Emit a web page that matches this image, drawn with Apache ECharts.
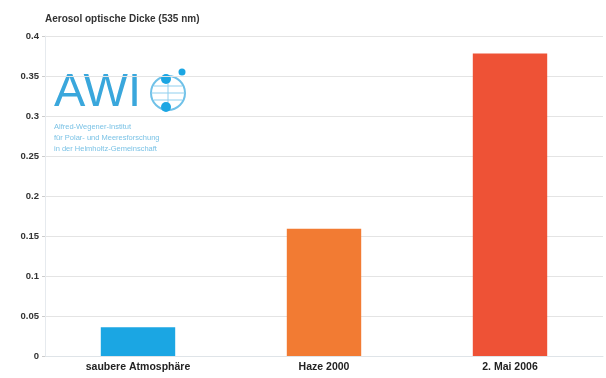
<!DOCTYPE html>
<html><head><meta charset="utf-8">
<script src="https://cdn.jsdelivr.net/npm/echarts@6/dist/echarts.min.js"></script>
<style>html,body{margin:0;padding:0;background:#fff}#c{width:606px;height:378px}</style>
</head><body><div id="c"></div>
<script>
const categories = ['saubere Atmosphäre', 'Haze 2000', '2. Mai 2006'];
const values = [0.036, 0.159, 0.378];
const barColors = ['#1ba6e3', '#f27b33', '#ee5236'];
const yTitle = 'Aerosol optische Dicke (535 nm)';
const logoLines = ['Alfred-Wegener-Institut', 'für Polar- und Meeresforschung', 'in der Helmholtz-Gemeinschaft'];

const chart = echarts.init(document.getElementById('c'));
chart.setOption({
  animation: false,
  backgroundColor: '#fff',
  grid: {left: 45, right: 3, top: 36, bottom: 22},
  title: {text: yTitle, left: 40, top: 9, textStyle: {fontFamily: 'Liberation Sans', fontWeight: 'bold', fontSize: 10, color: '#333'}},
  xAxis: {
    type: 'category', data: categories,
    axisLine: {lineStyle: {color: '#dfe4e8'}}, axisTick: {show: false},
    axisLabel: {fontFamily: 'Liberation Sans', fontWeight: 'bold', fontSize: 10.5, color: '#222', margin: 6, interval: 0}
  },
  yAxis: {
    type: 'value', min: 0, max: 0.4, interval: 0.05,
    axisLine: {show: true, lineStyle: {color: '#e6eaee'}}, axisTick: {show: true, length: 3, lineStyle: {color: '#ccc'}},
    splitLine: {lineStyle: {color: '#e4e4e4'}},
    axisLabel: {fontFamily: 'Liberation Sans', fontWeight: 'bold', fontSize: 9.5, color: '#333', margin: 6,
      formatter: v => String(+v.toFixed(2))}
  },
  series: [{
    type: 'bar', barWidth: '40%',
    data: values.map((v, i) => ({value: v, itemStyle: {color: barColors[i]}}))
  }],
  graphic: [
    {type: 'text', left: 54, top: 70, style: {text: 'AWI', font: '400 47px "Liberation Sans"', fill: '#3aa7dc'}},
    {type: 'circle', shape: {cx: 168, cy: 93, r: 17}, style: {fill: 'none', stroke: '#6fc1e8', lineWidth: 2}},
    {type: 'line', shape: {x1: 151, y1: 93, x2: 185, y2: 93}, style: {stroke: '#8fcfee', lineWidth: 1}},
    {type: 'line', shape: {x1: 168, y1: 76, x2: 168, y2: 110}, style: {stroke: '#8fcfee', lineWidth: 1}},
    {type: 'line', shape: {x1: 154, y1: 86, x2: 182, y2: 86}, style: {stroke: '#8fcfee', lineWidth: 1}},
    {type: 'line', shape: {x1: 154, y1: 100, x2: 182, y2: 100}, style: {stroke: '#8fcfee', lineWidth: 1}},
    {type: 'circle', shape: {cx: 166, cy: 79, r: 5}, style: {fill: '#1ba6e3'}},
    {type: 'circle', shape: {cx: 166, cy: 107, r: 5}, style: {fill: '#1ba6e3'}},
    {type: 'circle', shape: {cx: 182, cy: 72, r: 3.5}, style: {fill: '#1ba6e3'}},
    {type: 'text', left: 54, top: 121, style: {text: logoLines.join('\n'), font: '7.5px "Liberation Sans"', fill: '#7cc3e6', lineHeight: 11}}
  ]
});
</script></body></html>
